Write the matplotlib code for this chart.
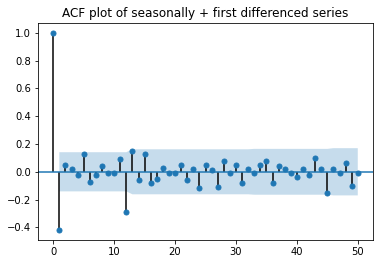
import numpy as np
import matplotlib.pyplot as plt

# autocorrelation values, lags 0..50
lags = np.arange(0, 51)
acf_vals = [1.00, -0.42, 0.05, 0.02, -0.02, 0.13, -0.07, -0.02, 0.04, -0.01,
            -0.01, 0.09, -0.29, 0.15, -0.06, 0.13, -0.08, -0.05, 0.03, -0.01,
            -0.01, 0.05, -0.06, 0.02, -0.12, 0.05, 0.01, -0.11, 0.08, -0.01,
            0.05, -0.08, 0.02, -0.01, 0.05, 0.08, -0.08, 0.04, 0.02, -0.01,
            -0.04, 0.02, -0.02, 0.10, 0.02, -0.15, 0.02, -0.01, 0.06, -0.10,
            -0.01]
# half-width of the shaded confidence band, lags 1..50
band_vals = [0.141] * 12 + [0.162] * 20 + [0.165] * 13 + [0.170] * 5
title = 'ACF plot of seasonally + first differenced series'

acf_arr = np.array(acf_vals)
band = np.array(band_vals)

fig = plt.figure(figsize=(383 / 72, 264 / 72), dpi=72)
ax = fig.add_axes([38 / 383, 1 - 240 / 264, (373 - 38) / 383, (240 - 23) / 264])

ax.vlines(lags, [0], acf_arr, colors='k')
ax.axhline(0)
ax.plot(lags, acf_arr, 'o', markersize=5, color='C0')
ax.fill_between(lags[1:], -band, band, alpha=0.25, linewidth=0)
ax.set_title(title)
ax.set_xticks([0, 10, 20, 30, 40, 50])
ax.set_yticks([-0.4, -0.2, 0.0, 0.2, 0.4, 0.6, 0.8, 1.0])

fig.savefig('out.png', dpi=72)
